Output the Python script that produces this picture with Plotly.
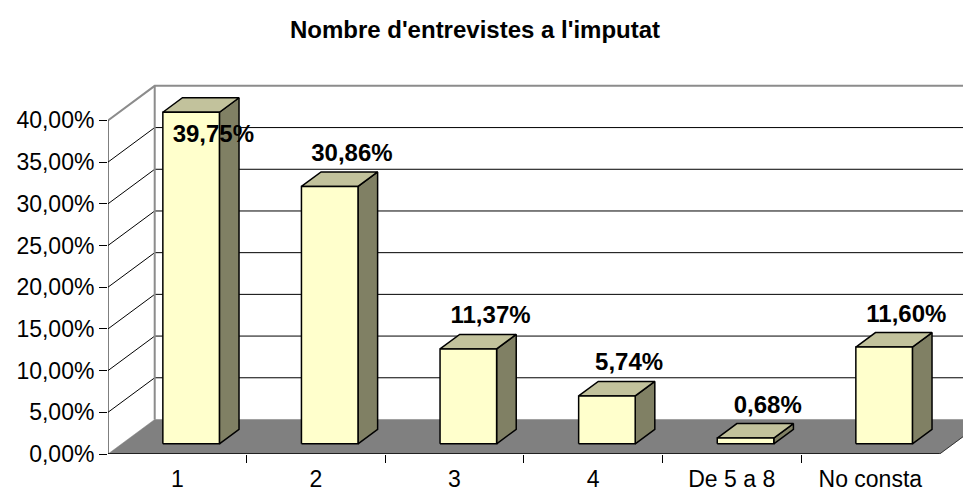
import plotly.graph_objects as go

# ---- data ----
categories = ["1", "2", "3", "4", "De 5 a 8", "No consta"]
values = [39.75, 30.86, 11.37, 5.74, 0.68, 11.60]
y_ticks = [0, 5, 10, 15, 20, 25, 30, 35, 40]
y_tick_labels = [("%.2f" % t).replace(".", ",") + "%" for t in y_ticks]
title_text = "Nombre d'entrevistes a l'imputat"

# ---- 3D projection style constants (in axis units) ----
DX = 0.337      # depth offset along x (category units)
DY = 4.14       # depth offset along y (percent units)
F1, F2 = 0.296, 0.716   # bar front / back depth fraction
HW = 0.204      # bar half width
YMAX = y_ticks[-1]
LABEL_OFF = 5.0
LABEL_CAP = 38.1

FRONT = "#FFFFCC"
TOP = "#C2C29C"
SIDE = "#808064"
FLOOR = "#808080"
WALL = "#8C8C8C"
FONT = "Liberation Sans, Arial, sans-serif"

n = len(categories)
xl, xr = -0.5, n - 0.5

fig = go.Figure()

def line(xs, ys, color, width):
    fig.add_trace(go.Scatter(x=xs, y=ys, mode="lines",
                             line=dict(color=color, width=width),
                             hoverinfo="skip", showlegend=False))

# gridlines on back wall and left wall
gx, gy, dxs, dys = [], [], [], []
for t in y_ticks[1:-1]:
    gx += [xl + DX, xr + DX + 1, None]
    gy += [t + DY, t + DY, None]
    dxs += [xl, xl + DX, None]
    dys += [t, t + DY, None]
line(gx, gy, "black", 1)
line(dxs, dys, "black", 1)

# wall borders
line([xl, xl + DX, xr + DX + 1], [YMAX, YMAX + DY, YMAX + DY], WALL, 2)
line([xl + DX, xl + DX], [DY, YMAX + DY], WALL, 2)

# floor
fig.add_trace(go.Scatter(x=[xl, xr, xr + DX, xl + DX, xl],
                         y=[0, 0, DY, DY, 0], mode="lines", fill="toself",
                         fillcolor=FLOOR, line=dict(color=FLOOR, width=0.5),
                         hoverinfo="skip", showlegend=False))
line([xr, xr + DX], [0, DY], "#333333", 1)
# front axes lines
line([xl, xr], [0, 0], "black", 1.5)
line([xl, xl], [0, YMAX], "black", 1)

# bars
fx, fy, tx, ty, sx, sy = [], [], [], [], [], []
for i, v in enumerate(values):
    a = i - HW + F1 * DX
    b = i + HW + F1 * DX
    b2 = i + HW + F2 * DX
    a2 = i - HW + F2 * DX
    y0, y1 = F1 * DY, F2 * DY
    fx += [a, b, b, a, a, None]
    fy += [y0, y0, v + y0, v + y0, y0, None]
    tx += [a, b, b2, a2, a, None]
    ty += [v + y0, v + y0, v + y1, v + y1, v + y0, None]
    sx += [b, b2, b2, b, b, None]
    sy += [y0, y1, v + y1, v + y0, y0, None]

for xs, ys_, col in [(sx, sy, SIDE), (tx, ty, TOP), (fx, fy, FRONT)]:
    fig.add_trace(go.Scatter(x=xs, y=ys_, mode="lines", fill="toself",
                             fillcolor=col, line=dict(color="black", width=1.5),
                             hoverinfo="skip", showlegend=False))

# data labels
fig.add_trace(go.Scatter(
    x=[i + 0.26 for i in range(n)],
    y=[min(v + LABEL_OFF, LABEL_CAP) for v in values],
    customdata=values, mode="text",
    texttemplate="<b>%{customdata:.2f}%</b>",
    textfont=dict(family=FONT, size=24, color="black"),
    textposition="middle center", hoverinfo="skip", showlegend=False))

W, H = 971, 491
# page body has an 8px offset; margins compensate for it
L, R, T, B = 100, 8, 72, 45
cw = 138.6
ys = 8.34
fig.update_layout(
    width=W, height=H,
    margin=dict(l=L, r=R, t=T, b=B),
    paper_bgcolor="white", plot_bgcolor="white",
    separators=", ",
    title=dict(text="<b>" + title_text + "</b>", x=467 / W, xanchor="center",
               y=1 - 22 / H, yanchor="middle", yref="container",
               font=dict(family=FONT, size=24, color="black")),
    xaxis=dict(range=[xl, xl + (W - L - R) / cw], tickmode="array",
               tickvals=list(range(n)), ticktext=categories, ticks="",
               showline=False, showgrid=False, zeroline=False,
               automargin=False, ticklabelstandoff=9,
               tickfont=dict(family=FONT, size=23, color="black"),
               minor=dict(tickmode="array",
                          tickvals=[i + 0.5 for i in range(n - 1)],
                          ticks="outside", ticklen=8, tickcolor="black",
                          tickwidth=1, showgrid=False),
               fixedrange=True),
    yaxis=dict(range=[0, (H - T - B) / ys], tickmode="array",
               tickvals=y_ticks, ticktext=y_tick_labels,
               ticks="outside", ticklen=8, tickcolor="black", tickwidth=1,
               showline=False, showgrid=False, zeroline=False,
               automargin=False,
               tickfont=dict(family=FONT, size=23, color="black"),
               fixedrange=True),
)

fig.write_html("out.html")
